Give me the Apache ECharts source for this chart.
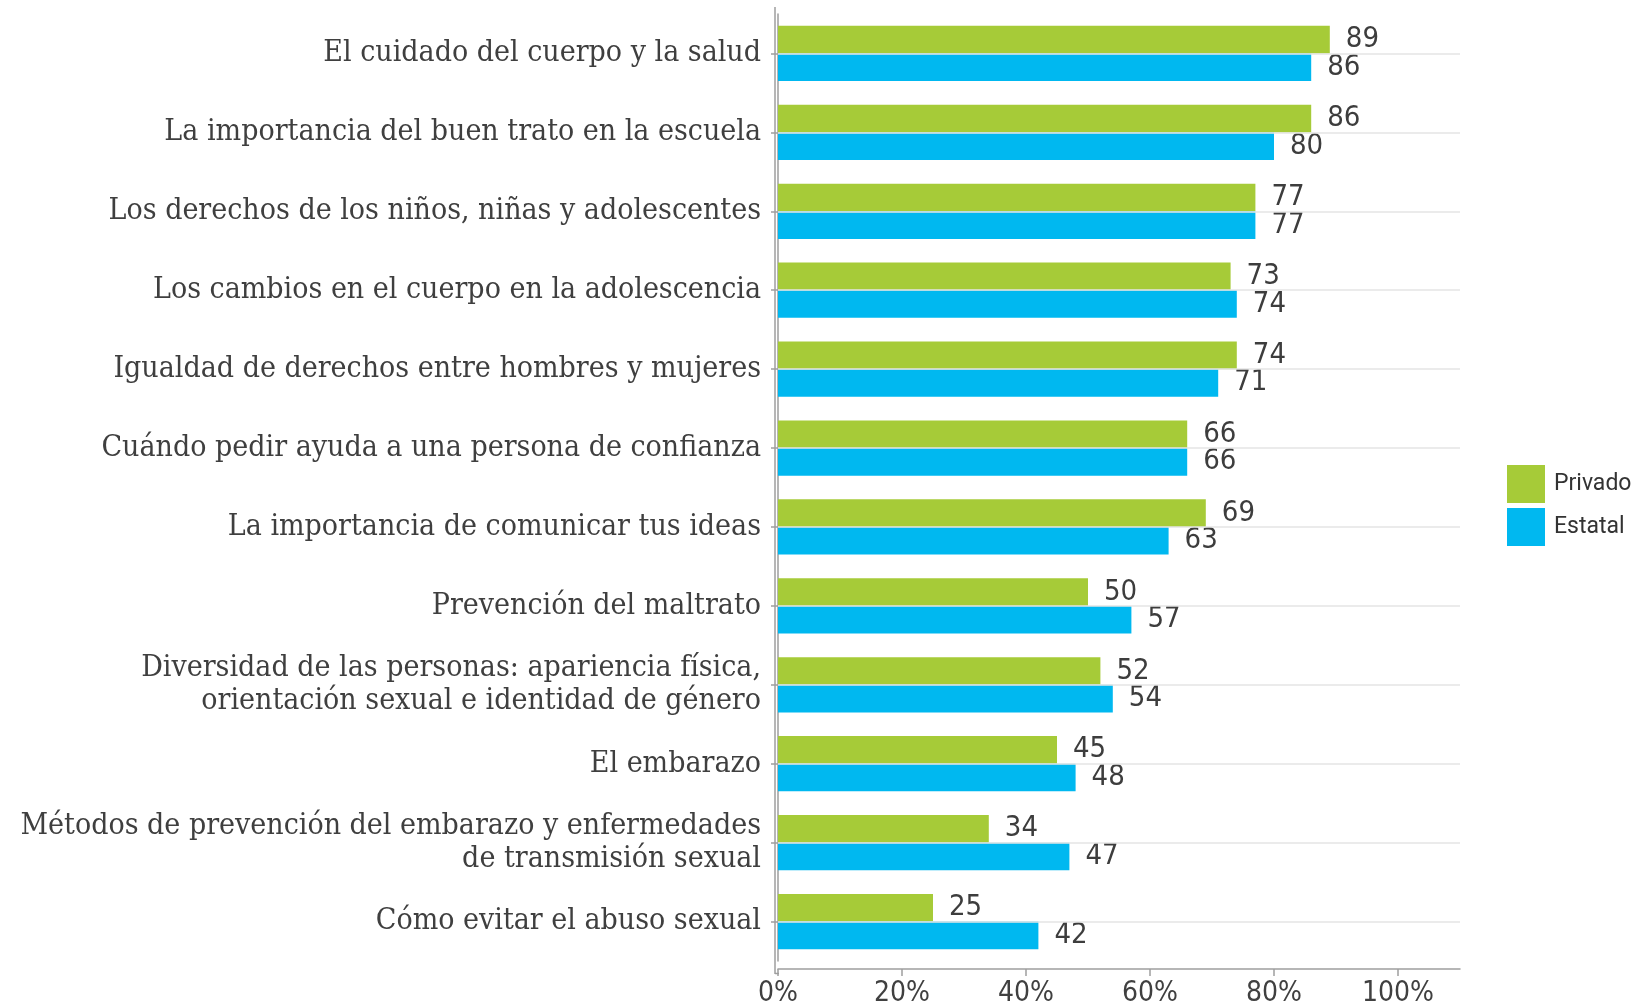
<!DOCTYPE html>
<html>
<head>
<meta charset="utf-8">
<script src="https://cdn.jsdelivr.net/npm/echarts@6/dist/echarts.min.js"></script>
<style>
html,body{margin:0;padding:0;background:#fff;}
#chart{width:1647px;height:1008px;}
</style>
</head>
<body>
<div id="chart"></div>
<script>
const categories = [
  "El cuidado del cuerpo y la salud",
  "La importancia del buen trato en la escuela",
  "Los derechos de los niños, niñas y adolescentes",
  "Los cambios en el cuerpo en la adolescencia",
  "Igualdad de derechos entre hombres y mujeres",
  "Cuándo pedir ayuda a una persona de confianza",
  "La importancia de comunicar tus ideas",
  "Prevención del maltrato",
  "Diversidad de las personas: apariencia física,\norientación sexual e identidad de género",
  "El embarazo",
  "Métodos de prevención del embarazo y enfermedades\nde transmisión sexual",
  "Cómo evitar el abuso sexual"
];
const privado = [89, 86, 77, 73, 74, 66, 69, 50, 52, 45, 34, 25];
const estatal = [86, 80, 77, 74, 71, 66, 63, 57, 54, 48, 47, 42];
const xTicks = [0, 20, 40, 60, 80, 100];

const chart = echarts.init(document.getElementById('chart'), null, {renderer: 'canvas'});
const axisColor = '#9e9e9e';
const valueLabel = {
  show: true,
  position: 'right',
  distance: 16,
  fontFamily: '"Liberation Sans Narrow", "DejaVu Sans Condensed", sans-serif',
  fontSize: 29,
  color: '#3d3d3d'
};
chart.setOption({
  animation: false,
  backgroundColor: '#ffffff',
  grid: {left: 778, right: 187, top: 14, bottom: 42.5, containLabel: false},
  legend: {
    data: ['Privado', 'Estatal'],
    orient: 'vertical',
    left: 1507,
    top: 465,
    padding: 0,
    itemWidth: 38,
    itemHeight: 38,
    itemGap: 5,
    icon: 'rect',
    textStyle: {fontFamily: 'Roboto', fontSize: 23, color: '#333333', padding: [0, 0, 0, 4]}
  },
  graphic: [
    {type: 'line', silent: true, z: 10, shape: {x1: 775, y1: 7, x2: 775, y2: 974}, style: {stroke: axisColor, lineWidth: 1.5}},
    {type: 'line', silent: true, z: 10, shape: {x1: 775, y1: 973.5, x2: 779, y2: 973.5}, style: {stroke: axisColor, lineWidth: 1.5}}
  ],
  xAxis: {
    type: 'value',
    min: 0,
    max: 110,
    interval: 20,
    offset: 8,
    splitLine: {show: false},
    axisLine: {show: true, lineStyle: {color: axisColor, width: 1.5}},
    axisTick: {show: true, length: 7, lineStyle: {color: axisColor, width: 1.5}, customValues: xTicks},
    axisLabel: {
      customValues: xTicks,
      formatter: v => v + '%',
      fontFamily: '"Liberation Sans Narrow", "DejaVu Sans Condensed", sans-serif',
      fontSize: 28,
      color: '#404040',
      margin: 11
    }
  },
  yAxis: {
    type: 'category',
    inverse: true,
    data: categories,
    offset: 3,
    axisLine: {show: true, lineStyle: {color: axisColor, width: 1.5}},
    axisTick: {show: true, alignWithLabel: true, length: 7, lineStyle: {color: axisColor, width: 1.5}},
    splitLine: {show: false},
    axisLabel: {
      fontFamily: '"DejaVu Serif Condensed", "DejaVu Serif", serif',
      fontSize: 30,
      color: '#3f3f3f',
      margin: 14,
      lineHeight: 33,
      align: 'right',
      padding: [0, 0, 6, 0]
    }
  },
  series: [
    {
      name: 'grid',
      type: 'line',
      data: [],
      z: 1,
      silent: true,
      markLine: {
        silent: true,
        symbol: 'none',
        label: {show: false},
        lineStyle: {color: '#e4e4e4', width: 1.5, type: 'solid'},
        data: categories.map(c => ({yAxis: c}))
      }
    },
    {
      name: 'Privado',
      type: 'bar',
      data: privado,
      z: 3,
      barGap: '0%',
      barCategoryGap: '30%',
      itemStyle: {color: '#a6cb38'},
      label: valueLabel
    },
    {
      name: 'Estatal',
      type: 'bar',
      data: estatal,
      z: 3,
      barGap: '0%',
      barCategoryGap: '30%',
      itemStyle: {color: '#00b8f0'},
      label: valueLabel
    }
  ]
});
</script>
</body>
</html>
